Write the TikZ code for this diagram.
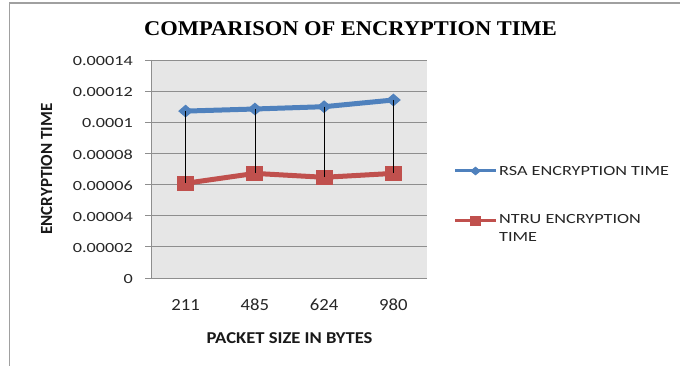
\documentclass[tikz,border=0pt]{standalone}
\usepackage{fontspec}
\setmainfont{Carlito}
\newfontfamily\titlefont[FakeStretch=1.07]{Liberation Serif}
\newfontfamily\tickfont[FakeStretch=1.3]{Carlito}
\newfontfamily\catfont[FakeStretch=1.1]{Carlito}
\newfontfamily\xtitlefont[FakeStretch=1.12]{Carlito}
\newfontfamily\legfont[FakeStretch=1.3]{Carlito}
\usetikzlibrary{shapes.geometric}
\definecolor{rsablue}{HTML}{4F81BD}
\definecolor{ntrured}{HTML}{C0504D}
\definecolor{plotbg}{HTML}{E6E6E6}
\definecolor{gridc}{HTML}{8E8E8E}
\definecolor{framec}{HTML}{A0A0A0}
\tikzset{
  ticklab/.style={anchor=east,inner sep=0pt,font=\tickfont\fontsize{14}{16}\selectfont,text=black!85},
  catlab/.style={inner sep=0pt,font=\catfont\fontsize{17}{19}\selectfont,text=black!85},
  gridline/.style={draw=gridc,line width=0.8pt},
  rsaline/.style={draw=rsablue,line width=5pt,line join=round},
  ntruline/.style={draw=ntrured,line width=5pt,line join=round},
  rsamark/.style={diamond,fill=rsablue,inner sep=0pt,minimum width=15pt,minimum height=13pt},
  ntrumark/.style={rectangle,fill=ntrured,inner sep=0pt,minimum width=17pt,minimum height=15pt},
  hiloline/.style={draw=black,line width=0.8pt},
  legtext/.style={anchor=west,inner sep=0pt,font=\legfont\fontsize{14}{18}\selectfont,text=black!85,align=left},
}
\begin{document}
\begin{tikzpicture}[x=1pt,y=-1pt]
\useasboundingbox (0,0) rectangle (680,366);
\fill[white] (0,0) rectangle (680,366);
% outer frame
\draw[framec,line width=1.5pt] (9.5,366) -- (9.5,3) -- (680,3);
% title
\node[inner sep=0pt,font=\titlefont\bfseries\fontsize{21}{24}\selectfont] (title) at (350.5,29) {COMPARISON OF ENCRYPTION TIME};
% plot area
\fill[plotbg] (151,60) rectangle (427,278);
\foreach \y in {60,91.1,122.3,153.4,184.6,215.7,246.9}
  \draw[gridline] (151,\y) -- (427,\y);
% axes
\draw[gridline] (151,60) -- (151,278) -- (427,278);
\foreach \y in {60,91.1,122.3,153.4,184.6,215.7,246.9,278}
  \draw[gridline] (145,\y) -- (151,\y);
% y tick labels
\node[ticklab] (t14) at (133,61) {0.00014};
\node[ticklab] (t12) at (133,92.1) {0.00012};
\node[ticklab] (t10) at (133,123.3) {0.0001};
\node[ticklab] (t08) at (133,154.4) {0.00008};
\node[ticklab] (t06) at (133,185.6) {0.00006};
\node[ticklab] (t04) at (133,216.7) {0.00004};
\node[ticklab] (t02) at (133,247.9) {0.00002};
\node[ticklab] (t00) at (133,279) {0};
% category labels
\node[catlab] (c1) at (185.6,305) {211};
\node[catlab] (c2) at (254.9,305) {485};
\node[catlab] (c3) at (324.1,305) {624};
\node[catlab] (c4) at (393.4,305) {980};
% axis titles
\node[inner sep=0pt,font=\xtitlefont\bfseries\fontsize{16.6}{18}\selectfont,text=black!90] (xt) at (289.5,338.5) {PACKET SIZE IN BYTES};
\node[inner sep=0pt,rotate=90,font=\bfseries\fontsize{17}{19}\selectfont,text=black!90] (yt) at (46.5,169) {ENCRYPTION TIME};
% data points
\coordinate (r1) at (185.6,111.1);
\coordinate (r2) at (254.9,109.0);
\coordinate (r3) at (324.1,106.7);
\coordinate (r4) at (393.4,100.0);
\coordinate (n1) at (185.6,183.3);
\coordinate (n2) at (254.9,173.4);
\coordinate (n3) at (324.1,177.3);
\coordinate (n4) at (393.4,173.4);
% series lines
\draw[rsaline] (r1) -- (r2) -- (r3) -- (r4);
\draw[ntruline] (n1) -- (n2) -- (n3) -- (n4);
% markers
\foreach \i in {1,2,3,4} {
  \node[rsamark] (rm\i) at (r\i) {};
  \node[ntrumark] (nm\i) at (n\i) {};
}
% high-low lines
\foreach \i in {1,2,3,4}
  \draw[hiloline] (r\i) -- (n\i);
% legend
\coordinate (la) at (455,171);
\coordinate (lb) at (496,171);
\draw[draw=rsablue,line width=3pt] (la) -- (lb);
\node[rsamark,minimum width=11pt,minimum height=9pt] (lrm) at (475.5,171) {};
\node[legtext] (lrt) at (499,171) {RSA ENCRYPTION TIME};
\coordinate (lc) at (455,221);
\coordinate (ld) at (496,221);
\draw[draw=ntrured,line width=3pt] (lc) -- (ld);
\node[ntrumark,minimum width=11pt,minimum height=10pt] (lnm) at (475.5,221) {};
\node[legtext,anchor=north west] (lnt) at (499,214.5) {NTRU ENCRYPTION\\TIME};
\end{tikzpicture}
\end{document}
